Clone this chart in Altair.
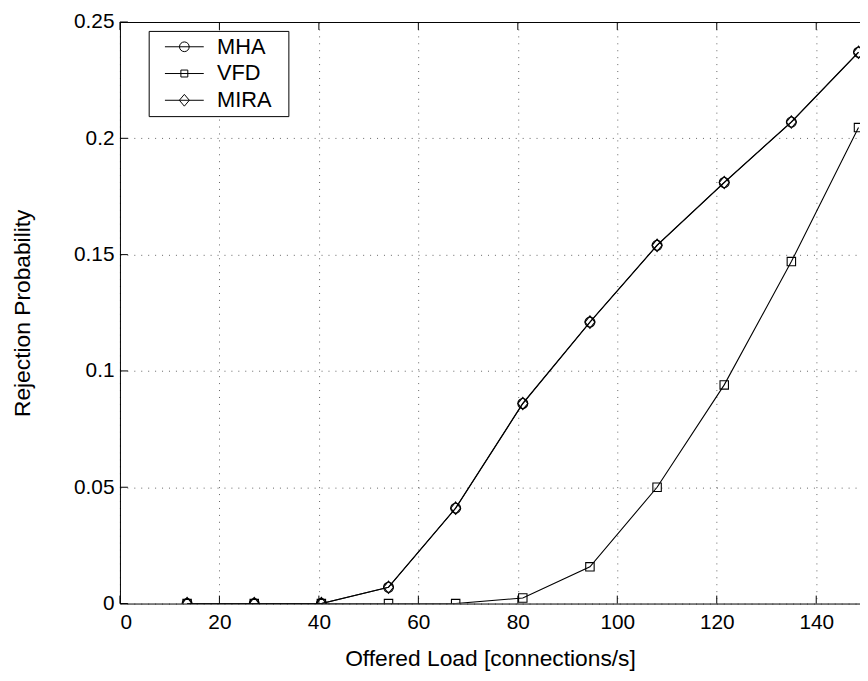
import altair as alt
import pandas as pd

# ---- data ----
LOAD = [13.5, 27, 40.5, 54, 67.5, 81, 94.5, 108, 121.5, 135, 148.5]
MHA = [0, 0, 0, 0.007, 0.041, 0.086, 0.121, 0.154, 0.181, 0.207, 0.237]
VFD = [0, 0, 0, 0, 0, 0.0024, 0.0158, 0.050, 0.094, 0.147, 0.2046]
MIRA = [0, 0, 0, 0.007, 0.041, 0.086, 0.121, 0.154, 0.181, 0.207, 0.237]
SERIES = ["MHA", "VFD", "MIRA"]
X_TICKS = [0, 20, 40, 60, 80, 100, 120, 140]
Y_TICKS = [0, 0.05, 0.1, 0.15, 0.2, 0.25]

rows = []
for name, vals in zip(SERIES, [MHA, VFD, MIRA]):
    for x, y in zip(LOAD, vals):
        rows.append({"series": name, "load": x, "prob": y})
df = pd.DataFrame(rows)
xt = pd.DataFrame({"t": X_TICKS})
yt = pd.DataFrame({"t": Y_TICKS})

W, H = 747, 587
FONT = "Liberation Sans"

xscale = alt.Scale(domain=[0, 148.8], nice=False, zero=False)
yscale = alt.Scale(domain=[0, 0.25], nice=False, zero=False)

bottom_axis = alt.Axis(orient="bottom", values=X_TICKS, format="d", ticks=False,
                       labelPadding=8, titlePadding=16, grid=True,
                       title="Offered Load [connections/s]")
left_axis = alt.Axis(orient="left", values=Y_TICKS, format=".2~f", ticks=False,
                     labelPadding=6, titlePadding=39, grid=True,
                     title="Rejection Probability")
top_axis = alt.Axis(orient="top", labels=False, ticks=False, grid=False,
                    title=None, domain=True, minExtent=0, maxExtent=0)

# marker shapes (unit coordinates, scaled by sqrt(size)/2)
CIRCLE = "M-1,0 A1,1 0 1,1 1,0 A1,1 0 1,1 -1,0 Z"
SQUARE = "M-0.85,-0.85 L0.85,-0.85 L0.85,0.85 L-0.85,0.85 Z"
DIAMOND = "M0,-1.25 L1,0 L0,1.25 L-1,0 Z"

# legend symbols: line + marker
k = 2.8
LCIRCLE = f"M-{k},0 L{k},0 M0.7,0 A0.7,0.7 0 1,1 -0.7,0 A0.7,0.7 0 1,1 0.7,0"
LSQUARE = f"M-{k},0 L{k},0 M-0.5,-0.5 L0.5,-0.5 L0.5,0.5 L-0.5,0.5 Z"
LDIAMOND = f"M-{k},0 L{k},0 M0,-0.85 L0.72,0 L0,0.85 L-0.72,0 Z"

top_ticks = alt.Chart(xt).mark_rule(color="black", strokeWidth=1).encode(
    x=alt.X("t:Q", scale=xscale, axis=top_axis),
    y=alt.value(0), y2=alt.value(8),
)
bottom_ticks = alt.Chart(xt).mark_rule(color="black", strokeWidth=1).encode(
    x=alt.X("t:Q", scale=xscale, axis=None),
    y=alt.value(H), y2=alt.value(H - 8),
)
left_ticks = alt.Chart(yt).mark_rule(color="black", strokeWidth=1).encode(
    y=alt.Y("t:Q", scale=yscale, axis=left_axis),
    x=alt.value(0), x2=alt.value(8),
)

lines = alt.Chart(df).mark_line(color="black", clip=True).encode(
    x=alt.X("load:Q", scale=xscale, axis=bottom_axis),
    y=alt.Y("prob:Q", scale=yscale, axis=left_axis),
    detail="series:N",
    strokeWidth=alt.StrokeWidth("series:N", scale=alt.Scale(domain=SERIES, range=[1.3, 0.9, 1.3]), legend=None),
)

points = alt.Chart(df).mark_point(filled=False, color="black", strokeWidth=1.1, size=100, clip=True, opacity=1).encode(
    x=alt.X("load:Q", scale=xscale, axis=None),
    y=alt.Y("prob:Q", scale=yscale, axis=left_axis),
    shape=alt.Shape("series:N", scale=alt.Scale(domain=SERIES, range=[CIRCLE, SQUARE, DIAMOND]), legend=None),
)

legend_layer = alt.Chart(df).transform_filter("datum.load < 0").mark_point(
    filled=False, color="black", strokeWidth=1, size=196, opacity=1
).encode(
    x=alt.X("load:Q", scale=xscale, axis=None),
    y=alt.Y("prob:Q", scale=yscale, axis=left_axis),
    shape=alt.Shape("series:N",
                    scale=alt.Scale(domain=SERIES, range=[LCIRCLE, LSQUARE, LDIAMOND]),
                    legend=alt.Legend(orient="none", legendX=29, legendY=9,
                                      title="xx", titleOrient="right", titleFontSize=10,
                                      titleColor="white", titlePadding=0,
                                      padding=5, rowPadding=5, symbolOffset=20, labelOffset=22,
                                      symbolSize=196,
                                      labelFontSize=22, labelFont=FONT, labelColor="black",
                                      strokeColor="black", fillColor="white",
                                      symbolStrokeColor="black", symbolFillColor="transparent",
                                      symbolStrokeWidth=1, symbolOpacity=1)),
)

chart = alt.layer(
    top_ticks, bottom_ticks, left_ticks, lines, points, legend_layer
).resolve_scale(shape="independent").resolve_axis(x="independent").properties(
    width=W, height=H,
    autosize=alt.AutoSizeParams(type="none"),
    padding={"left": 113, "top": 11, "right": 0, "bottom": 70},
    background="white",
).configure_view(stroke=None).configure_axis(
    labelFont=FONT, titleFont=FONT, labelFontSize=21, titleFontSize=23,
    labelColor="black", titleColor="black", titleFontWeight="normal",
    domainColor="black", domainWidth=1,
    gridColor="#222", gridDash=[1, 6], gridOpacity=0.7, gridWidth=1,
)

chart.save("out.html", embed_options={"renderer": "svg", "actions": False})
